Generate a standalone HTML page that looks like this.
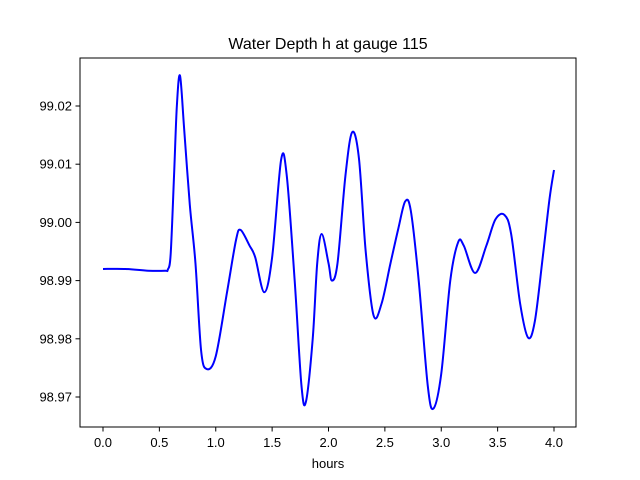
<!DOCTYPE html>
<html><head><meta charset="utf-8">
<style>
body{margin:0;background:#fff;}
svg{display:block;font-family:"Liberation Sans","DejaVu Sans",sans-serif;}
</style></head>
<body>
<svg id="chart" width="640" height="480" viewBox="0 0 640 480">
<rect x="0" y="0" width="640" height="480" fill="#fff"/>
<text x="328" y="49" text-anchor="middle" font-size="16" fill="#000">Water Depth h at gauge 115</text>
<g id="xticks"></g>
<g id="yticks"></g>
<path id="line" fill="none" stroke="#0000ff" stroke-width="2"/>
<rect x="80" y="58" width="496" height="369" fill="none" stroke="#000" stroke-width="1"/>
<text x="328" y="468" text-anchor="middle" font-size="13" fill="#000">hours</text>
</svg>
<script>
const hours = [0,0.2,0.4,0.55,0.575,0.6,0.63,0.655,0.683,0.72,0.77,0.82,0.87,0.92,1.0,1.1,1.18,1.22,1.3,1.35,1.43,1.5,1.58,1.63,1.7,1.76,1.8,1.86,1.9,1.94,2.0,2.03,2.08,2.15,2.21,2.27,2.33,2.4,2.47,2.55,2.62,2.68,2.73,2.8,2.88,2.93,3.0,3.08,3.15,3.2,3.3,3.4,3.48,3.56,3.62,3.7,3.77,3.83,3.9,3.96,4.0];
const depth = [98.992,98.992,98.9917,98.9917,98.9919,98.9945,99.008,99.020,99.0252,99.016,99.003,98.993,98.978,98.9748,98.977,98.988,98.997,98.9987,98.996,98.994,98.988,98.994,99.0108,99.008,98.99,98.972,98.9692,98.98,98.993,98.998,98.993,98.990,98.993,99.008,99.0155,99.011,98.995,98.984,98.986,98.993,98.999,99.0036,99.002,98.99,98.972,98.968,98.974,98.99,98.9966,98.996,98.9913,98.996,99.0005,99.0013,98.998,98.986,98.9802,98.983,98.994,99.004,99.009];
const xTicks = ["0.0","0.5","1.0","1.5","2.0","2.5","3.0","3.5","4.0"];
const yTicks = ["98.97","98.98","98.99","99.00","99.01","99.02"];
const X = h => 103 + h * 112.75;
const Y = v => 397 - (v - 98.97) * 5820;
const ns = "http://www.w3.org/2000/svg";
const xg = document.getElementById('xticks');
xTicks.forEach(t => {
  const x = X(parseFloat(t));
  const l = document.createElementNS(ns, 'line');
  
  
  l.setAttribute('x1', x); l.setAttribute('x2', x); l.setAttribute('y1', 427); l.setAttribute('y2', 431.5);
  l.setAttribute('stroke', '#000');
  xg.appendChild(l);
  const tx = document.createElementNS(ns, 'text');
  
  
  tx.setAttribute('x', x); tx.setAttribute('y', 447); tx.setAttribute('text-anchor', 'middle');
  tx.setAttribute('font-size', '13');
  tx.textContent = t;
  xg.appendChild(tx);
});
const yg = document.getElementById('yticks');
yTicks.forEach(t => {
  const y = Y(parseFloat(t));
  const l = document.createElementNS(ns, 'line');
  
  
  l.setAttribute('x1', 75.5); l.setAttribute('x2', 80); l.setAttribute('y1', y); l.setAttribute('y2', y);
  l.setAttribute('stroke', '#000');
  yg.appendChild(l);
  const tx = document.createElementNS(ns, 'text');
  
  
  tx.setAttribute('x', 72); tx.setAttribute('y', y + 4.5); tx.setAttribute('text-anchor', 'end');
  tx.setAttribute('font-size', '13');
  tx.textContent = t;
  yg.appendChild(tx);
});
const pts = hours.map((h, i) => [X(h), Y(depth[i])]);
let d = `M${pts[0][0]},${pts[0][1]}`;
for (let i = 0; i < pts.length - 1; i++) {
  const p0 = pts[Math.max(0, i - 1)], p1 = pts[i], p2 = pts[i + 1], p3 = pts[Math.min(pts.length - 1, i + 2)];
  const c1 = [p1[0] + (p2[0] - p0[0]) / 6, p1[1] + (p2[1] - p0[1]) / 6];
  const c2 = [p2[0] - (p3[0] - p1[0]) / 6, p2[1] - (p3[1] - p1[1]) / 6];
  d += ` C${c1[0]},${c1[1]} ${c2[0]},${c2[1]} ${p2[0]},${p2[1]}`;
}
document.getElementById('line').setAttribute('d', d);
</script>
</body></html>
